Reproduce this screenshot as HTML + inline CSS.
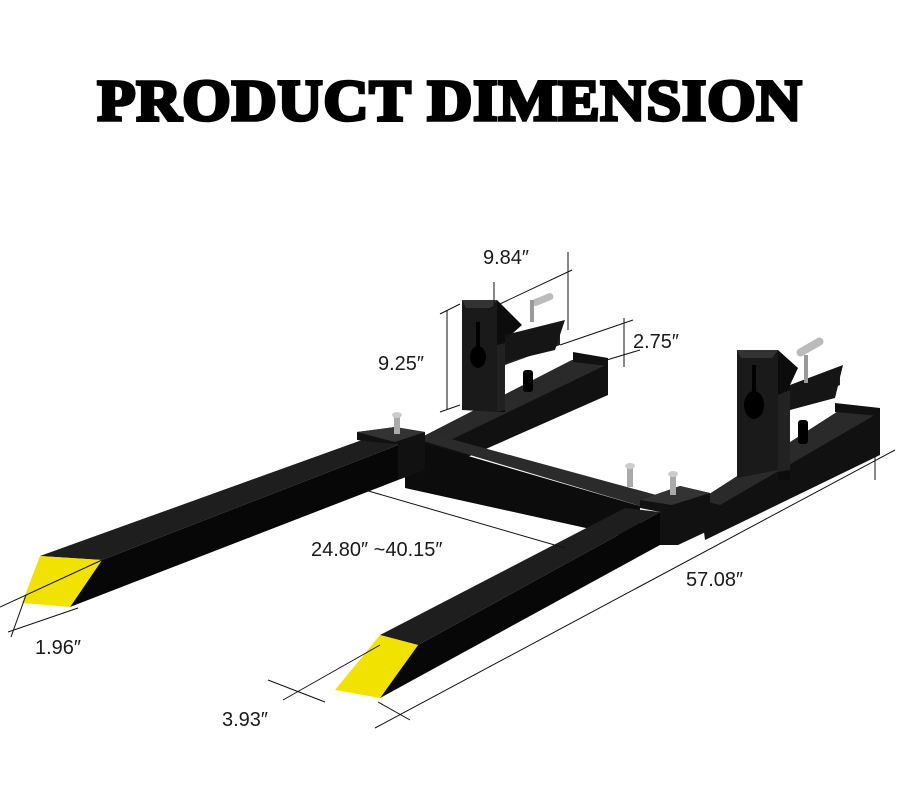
<!DOCTYPE html>
<html><head><style>
html,body{margin:0;padding:0;background:#fff;width:900px;height:800px;overflow:hidden}
svg{display:block}
.t{font-family:"Liberation Sans",sans-serif;font-size:20px;fill:#1a1a1a}
</style></head><body>
<svg width="900" height="800" viewBox="0 0 900 800">
<text x="450" y="120" text-anchor="middle" font-family="Liberation Serif,serif" font-weight="bold" font-size="58" fill="#000" stroke="#000" stroke-width="3.5" letter-spacing="1" textLength="705" lengthAdjust="spacingAndGlyphs">PRODUCT DIMENSION</text>

<!-- left rear rail -->
<polygon points="420,438 572,360 608,364 608,395 420,478" fill="#111"/>
<polygon points="420,438 572,360 608,364 440,445" fill="#2a2a2a"/>
<polygon points="573,352 608,358 608,366 573,362" fill="#111"/>
<!-- left upright -->
<polygon points="462,300 497,300 497,412 462,410" fill="#1a1a1a"/>
<polygon points="462,300 497,300 492,308 466,308" fill="#333"/>
<polygon points="497,300 522,325 505,340 505,412 497,412" fill="#0c0c0c"/>
<polygon points="497,345 560,330 560,345 505,365 505,410 497,412" fill="#222"/>
<polygon points="505,335 565,320 555,350 505,362" fill="#151515"/>
<ellipse cx="478" cy="357" rx="8" ry="11" fill="#000"/>
<rect x="476" y="322" width="4" height="30" fill="#000"/>
<rect x="532" y="296" width="22" height="7" rx="3" fill="#bbb" transform="rotate(-22 543 300)"/>
<rect x="530" y="300" width="4" height="22" fill="#999"/>
<rect x="523" y="370" width="10" height="22" rx="3" fill="#000"/>
<!-- right rear rail -->
<polygon points="700,500 840,410 880,412 880,455 705,540" fill="#111"/>
<polygon points="700,500 840,410 880,412 720,505" fill="#2a2a2a"/>
<polygon points="835,403 880,408 880,416 835,412" fill="#111"/>
<!-- right upright -->
<polygon points="737,350 778,350 778,470 737,478" fill="#1a1a1a"/>
<polygon points="737,350 778,350 772,358 741,358" fill="#333"/>
<polygon points="778,350 798,368 790,385 790,480 778,480" fill="#0c0c0c"/>
<polygon points="778,395 840,370 840,385 790,410 790,470 778,472" fill="#222"/>
<polygon points="790,385 843,365 835,398 790,410" fill="#151515"/>
<ellipse cx="754" cy="405" rx="10" ry="14" fill="#000"/>
<rect x="752" y="365" width="4" height="35" fill="#000"/>
<rect x="795" y="343" width="30" height="8" rx="4" fill="#bbb" transform="rotate(-30 810 347)"/>
<rect x="804" y="355" width="4" height="28" fill="#999"/>
<rect x="798" y="420" width="10" height="24" rx="3" fill="#000"/>
<!-- crossbar -->
<polygon points="420,440 440,436 660,496 640,506" fill="#2b2b2b"/>
<polygon points="420,442 640,506 640,540 405,488 405,450" fill="#0c0c0c"/>
<!-- left fork -->
<polygon points="40,556 362,440 398,445 102,560" fill="#1e1e1e"/>
<polygon points="102,560 398,445 398,480 70,607" fill="#070707"/>
<polygon points="40,556 102,560 70,607 22,603" fill="#f2e200"/>
<polygon points="357,432 395,427 425,432 425,470 398,480 398,445 357,440" fill="#111"/>
<polygon points="357,432 395,427 425,432 395,442" fill="#333"/>
<!-- right fork -->
<polygon points="380,635 625,508 660,512 418,645" fill="#1e1e1e"/>
<polygon points="418,645 660,512 660,545 380,698" fill="#070707"/>
<polygon points="380,635 418,645 380,698 335,690" fill="#f2e200"/>
<polygon points="640,500 680,486 710,493 710,530 678,545 660,545 660,512 640,508" fill="#111"/>
<polygon points="640,500 680,486 710,493 672,505" fill="#333"/>
<!-- bolts -->
<rect x="394" y="416" width="6" height="18" fill="#aaa"/><ellipse cx="397" cy="415" rx="5" ry="3" fill="#ccc"/>
<rect x="627" y="465" width="6" height="22" fill="#aaa"/><ellipse cx="630" cy="466" rx="5" ry="3" fill="#ccc"/>
<rect x="670" y="473" width="6" height="22" fill="#aaa"/><ellipse cx="673" cy="474" rx="5" ry="3" fill="#ccc"/>

<!-- dimension lines -->
<g stroke="#111" stroke-width="1" fill="none">
<line x1="487" y1="310" x2="572" y2="270"/>
<line x1="494" y1="282" x2="494" y2="305"/>
<line x1="568" y1="252" x2="568" y2="330"/>
<line x1="447" y1="310" x2="447" y2="410"/>
<line x1="440" y1="314" x2="460" y2="304"/>
<line x1="440" y1="412" x2="460" y2="405"/>
<line x1="560" y1="345" x2="633" y2="320"/>
<line x1="600" y1="362" x2="640" y2="350"/>
<line x1="624" y1="318" x2="624" y2="367"/>
<line x1="365" y1="490" x2="565" y2="548"/>
<line x1="375" y1="728" x2="895" y2="450"/>
<line x1="875" y1="440" x2="875" y2="480"/>
<line x1="378" y1="702" x2="410" y2="720"/>
<line x1="268" y1="680" x2="325" y2="702"/>
<line x1="283" y1="700" x2="380" y2="645"/>
<line x1="0" y1="607" x2="102" y2="560"/>
<line x1="8" y1="632" x2="78" y2="608"/>
<line x1="26" y1="595" x2="11" y2="637"/>
</g>
<text class="t" x="483" y="264">9.84″</text>
<text class="t" x="378" y="370">9.25″</text>
<text class="t" x="633" y="348">2.75″</text>
<text class="t" x="311" y="556">24.80″  ~40.15″</text>
<text class="t" x="686" y="586">57.08″</text>
<text class="t" x="35" y="654">1.96″</text>
<text class="t" x="222" y="726">3.93″</text>
</svg>
</body></html>
